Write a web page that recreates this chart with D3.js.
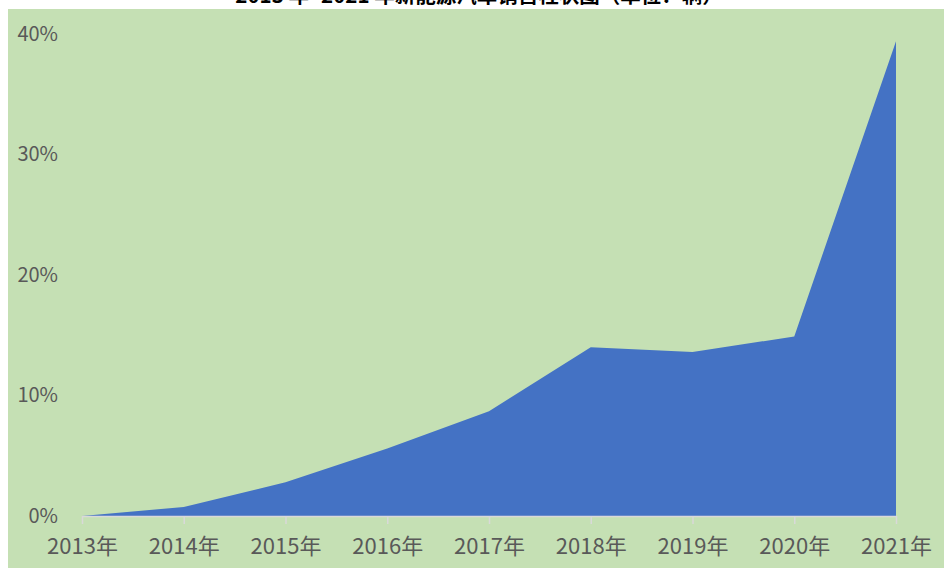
<!DOCTYPE html>
<html>
<head>
<meta charset="utf-8">
<script src="https://cdn.jsdelivr.net/npm/d3@7"></script>
<style>
  body { margin: 0; background: #fff; }
  svg { display: block; }
  text { font-family: "Noto Sans CJK SC", "Noto Sans", sans-serif; }
</style>
</head>
<body>
<script>
var chartTitle = "2013 年- 2021 年新能源汽车销售柱状图（单位：辆）";
var years = ["2013年", "2014年", "2015年", "2016年", "2017年", "2018年", "2019年", "2020年", "2021年"];
var shares = [0, 0.75, 2.8, 5.6, 8.7, 14.0, 13.6, 14.9, 39.4];
var yTicks = [0, 10, 20, 30, 40];

var W = 944, H = 571;
var svg = d3.select("body").append("svg")
  .attr("width", W)
  .attr("height", H);

// green panel
svg.append("rect")
  .attr("x", 8).attr("y", 9)
  .attr("width", W - 8).attr("height", 559)
  .style("fill", "#C5E0B4");

// title, mostly cut off at the top
svg.append("text")
  .attr("x", 479).attr("y", 3)
  .attr("text-anchor", "middle")
  .style("font-size", "20.5px")
  .style("font-weight", "bold")
  .style("fill", "#000")
  .text(chartTitle);

var x = d3.scalePoint().domain(years).range([82, 896]);
var y = d3.scaleLinear().domain([0, 40]).range([516, 34]);

var area = d3.area()
  .x(function(d, i) { return x(years[i]); })
  .y0(y(0))
  .y1(function(d) { return y(d); });

svg.append("path")
  .datum(shares)
  .attr("d", area)
  .style("fill", "#4472C4");

// y axis labels
var yAxis = svg.append("g")
  .attr("transform", "translate(58,0)")
  .call(d3.axisLeft(y).tickValues(yTicks).tickSize(0).tickPadding(0)
    .tickFormat(function(d) { return d + "%"; }));
yAxis.select(".domain").remove();
yAxis.selectAll("text")
  .style("font-size", "20px")
  .style("fill", "#595959")
  .attr("font-family", null);

// x axis
var xAxis = svg.append("g")
  .attr("transform", "translate(0," + y(0) + ")")
  .call(d3.axisBottom(x).tickSize(8).tickPadding(14).tickSizeOuter(0));
xAxis.select(".domain").style("stroke", "#D9D9D9").style("stroke-width", 1.5);
xAxis.selectAll(".tick line").style("stroke", "#D9D9D9").style("stroke-width", 1.5);
xAxis.selectAll("text")
  .style("font-size", "22px")
  .style("fill", "#595959")
  .attr("font-family", null);
</script>
</body>
</html>
